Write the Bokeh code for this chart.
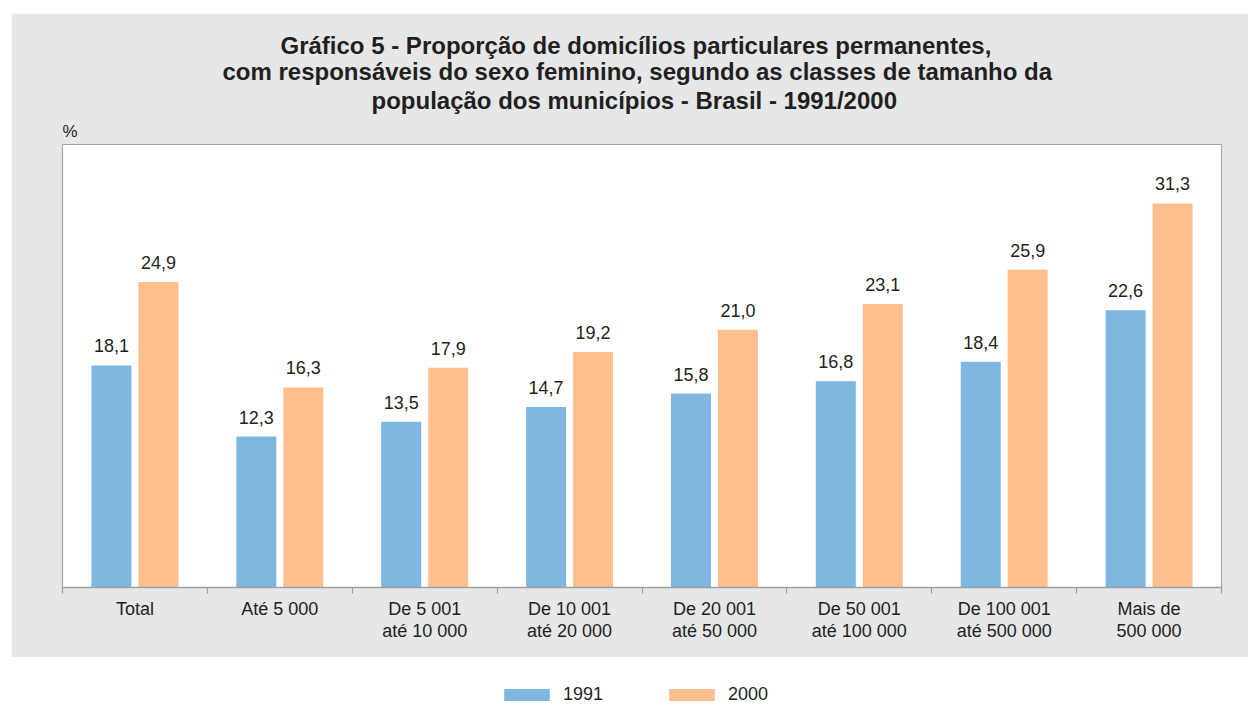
from bokeh.plotting import figure
from bokeh.models import Range1d, FixedTicker, Legend, LegendItem, ColumnDataSource, Title
from bokeh.core.properties import value
from bokeh.layouts import column
from bokeh.embed import file_html
from bokeh.resources import INLINE

categories = ["Total", "Até 5 000", "De 5 001\naté 10 000", "De 10 001\naté 20 000",
              "De 20 001\naté 50 000", "De 50 001\naté 100 000", "De 100 001\naté 500 000",
              "Mais de\n500 000"]
v1991 = [18.1, 12.3, 13.5, 14.7, 15.8, 16.8, 18.4, 22.6]
v2000 = [24.9, 16.3, 17.9, 19.2, 21.0, 23.1, 25.9, 31.3]
series_names = ["1991", "2000"]
title_lines = ["Gráfico 5 - Proporção de domicílios particulares permanentes,",
               "com responsáveis do sexo feminino, segundo as classes de tamanho da",
               "população dos municípios - Brasil - 1991/2000"]
title_offsets = [218, 160, 309]   # left offsets (px) that centre each title line
title_standoffs = [-2.5, -3.5, 3]

BLUE = "#80b7e1"
ORANGE = "#fdbf8e"
GRAY = "#e6e7e9"
TXT = "#231f20"
FONT = "Liberation Sans"

n = len(categories)
offset = 0.162
bw = 0.276
centers = [i + 0.5 for i in range(n)]

def fmt(v):
    return f"{v:.1f}".replace(".", ",")

src1 = ColumnDataSource(dict(x=[c - offset for c in centers], top=v1991, lab=[fmt(v) for v in v1991]))
src2 = ColumnDataSource(dict(x=[c + offset for c in centers], top=v2000, lab=[fmt(v) for v in v2000]))

p = figure(width=1237, height=644, output_backend="svg", toolbar_location=None,
           x_range=Range1d(0, n), y_range=Range1d(0, 36.1), title=None,
           min_border_left=51, min_border_right=27, min_border_top=131, min_border_bottom=70,
           margin=(13, 0, 0, 11))
p.border_fill_color = GRAY
p.background_fill_color = "white"
p.outline_line_color = "#a6a6a6"
p.outline_line_width = 1.2
p.grid.visible = False
p.yaxis.visible = False

# "%" unit label just above the frame, left-aligned
p.add_layout(Title(text="%", align="left", text_font=FONT, text_font_size="17px",
                   text_font_style="normal", text_color=TXT, standoff=8), "above")
for line, off, so in reversed(list(zip(title_lines, title_offsets, title_standoffs))):
    p.add_layout(Title(text=line, align="left", text_font=FONT, text_font_size="24px",
                       text_font_style="bold", text_color=TXT,
                       offset=off, standoff=so), "above")

p.vbar(x="x", top="top", width=bw, source=src1, color=BLUE, line_color=None)
p.vbar(x="x", top="top", width=bw, source=src2, color=ORANGE, line_color=None)

for s in (src1, src2):
    p.text(x="x", y="top", text="lab", source=s, text_align="center", text_baseline="bottom",
           y_offset=-13, text_font=value(FONT), text_font_size="18px", text_color=TXT)

ax = p.xaxis[0]
ax.ticker = FixedTicker(ticks=centers, minor_ticks=list(range(n + 1)))
ax.major_label_overrides = {c: lab for c, lab in zip(centers, categories)}
ax.major_tick_line_color = None
ax.minor_tick_line_color = "#a0a0a0"
ax.minor_tick_out = 6
ax.minor_tick_in = 0
ax.minor_tick_line_width = 1.2
ax.axis_line_color = "#a0a0a0"
ax.axis_line_width = 1.5
ax.major_label_text_font = FONT
ax.major_label_text_font_size = "18px"
ax.major_label_text_color = TXT
ax.major_label_text_line_height = 1.1
ax.major_label_standoff = 5

# legend figure
q = figure(width=1240, height=49, output_backend="svg", toolbar_location=None,
           min_border=0, x_range=Range1d(0, 1), y_range=Range1d(0, 1))
q.outline_line_color = None
q.axis.visible = False
q.grid.visible = False
r1 = q.vbar(x=[0.5], top=[0], width=0.0, color=BLUE, line_color=None)
r2 = q.vbar(x=[0.5], top=[0], width=0.0, color=ORANGE, line_color=None)
leg = Legend(items=[LegendItem(label=series_names[0], renderers=[r1]),
                    LegendItem(label=series_names[1], renderers=[r2])],
             orientation="horizontal", location=(447, 1), glyph_width=57, glyph_height=15,
             label_standoff=8, spacing=60, padding=0, margin=0,
             background_fill_alpha=0, border_line_color=None,
             label_text_font=FONT, label_text_font_size="18px", label_text_color=TXT)
q.add_layout(leg)

layout = column(p, q, spacing=0)
open("out.html", "w").write(file_html(layout, INLINE))
